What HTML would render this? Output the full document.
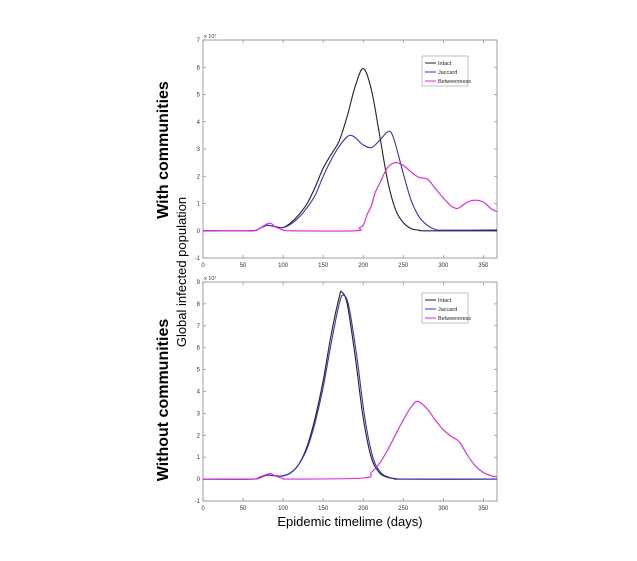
<!DOCTYPE html>
<html><head><meta charset="utf-8"><style>
body{margin:0;background:#fff;}
svg{display:block;font-family:"Liberation Sans",sans-serif;}
</style></head><body>
<svg id="c" width="637" height="561">
<text x="168" y="150" transform="rotate(-90 168 150)" text-anchor="middle" font-size="16" font-weight="bold">With communities</text>
<text x="168" y="400" transform="rotate(-90 168 400)" text-anchor="middle" font-size="16" font-weight="bold">Without communities</text>
<text x="186" y="272" transform="rotate(-90 186 272)" text-anchor="middle" font-size="13">Global infected population</text>
<text x="350" y="526" text-anchor="middle" font-size="13">Epidemic timelime (days)</text>
</svg>
<script>
const xTicks=[0,50,100,150,200,250,300,350];
const topYTicks=[-1,0,1,2,3,4,5,6,7];
const botYTicks=[-1,0,1,2,3,4,5,6,7,8,9];
const seriesNames=["Intact","Jaccard","Betweenness"];
const topIntactX=[0,60,70,80,90,100,110,120,130,140,150,160,170,180,190,200,210,220,230,240,250,260,270,280,367];
const topIntactY=[0,0,0.08,0.2,0.15,0.12,0.3,0.6,1.0,1.6,2.3,2.8,3.3,4.2,5.3,5.95,5.2,3.6,1.9,0.8,0.3,0.08,0.02,0,0];
const topJaccardX=[0,60,70,80,90,100,110,120,130,140,150,160,170,180,185,190,200,210,220,230,235,240,250,260,270,280,290,300,367];
const topJaccardY=[0,0,0.08,0.2,0.15,0.12,0.25,0.5,0.85,1.3,2.0,2.6,3.1,3.45,3.5,3.42,3.15,3.05,3.3,3.62,3.6,3.2,2.1,1.1,0.5,0.2,0.05,0.02,0.03];
const topBetwX=[0,60,70,80,85,90,100,110,190,195,200,205,210,215,220,230,240,250,260,270,280,290,300,310,316,320,330,340,350,360,367];
const topBetwY=[0,0,0.08,0.25,0.27,0.15,0.03,0,0,0.1,0.2,0.6,0.9,1.4,1.7,2.3,2.5,2.4,2.15,1.95,1.9,1.55,1.2,0.9,0.82,0.85,1.05,1.12,1.05,0.8,0.7];
const botIntactX=[0,60,70,80,90,100,110,120,130,140,150,160,170,173,180,190,200,210,220,230,240,250,367];
const botIntactY=[0,0,0.05,0.18,0.15,0.15,0.3,0.7,1.5,2.8,4.5,6.6,8.3,8.55,8.0,5.6,2.8,1.0,0.3,0.08,0.02,0,0];
const botJaccardX=[0,60,70,80,90,100,110,120,130,140,150,160,170,175,182,192,202,212,222,232,242,252,367];
const botJaccardY=[0,0,0.05,0.18,0.15,0.15,0.3,0.7,1.4,2.6,4.2,6.2,8.0,8.4,7.9,5.6,2.8,1.0,0.3,0.08,0.02,0,0];
const botBetwX=[0,60,70,80,85,90,100,110,200,210,220,230,240,250,260,268,280,290,300,310,320,330,340,350,360,367];
const botBetwY=[0,0,0.08,0.22,0.25,0.15,0.03,0,0.05,0.3,0.7,1.3,2.0,2.7,3.3,3.55,3.2,2.7,2.25,1.95,1.7,1.1,0.6,0.3,0.15,0.1];
const colors=["#222","#3a2fc0","#e020e0"];
const NS="http://www.w3.org/2000/svg";
const svg=document.getElementById('c');
function mk(t,a,p){const e=document.createElementNS(NS,t);for(const k in a)e.setAttribute(k,a[k]);(p||svg).appendChild(e);return e;}
function smooth(pts){let d="M"+pts[0][0]+","+pts[0][1];for(let i=0;i<pts.length-1;i++){const p0=pts[Math.max(0,i-1)],p1=pts[i],p2=pts[i+1],p3=pts[Math.min(pts.length-1,i+2)];const c1x=p1[0]+(p2[0]-p0[0])/6,c1y=p1[1]+(p2[1]-p0[1])/6,c2x=p2[0]-(p3[0]-p1[0])/6,c2y=p2[1]-(p3[1]-p1[1])/6;d+=" C"+c1x.toFixed(1)+","+c1y.toFixed(1)+" "+c2x.toFixed(1)+","+c2y.toFixed(1)+" "+p2[0].toFixed(1)+","+p2[1].toFixed(1);}return d;}
function panel(name,L,T,R,B,ymin,ymax,yTicks,data,legY){
  const g=mk('g',{});
  
  
  const sx=v=>L+(v-0)/(367-0)*(R-L), sy=v=>B-(v-ymin)/(ymax-ymin)*(B-T);
  const box=mk('rect',{x:L,y:T,width:R-L,height:B-T,fill:'#fff',stroke:'#888','stroke-width':0.8},g);
  
  
  xTicks.forEach(v=>{const x=sx(v);mk('line',{x1:x,y1:B,x2:x,y2:B-3,stroke:'#888','stroke-width':0.7},g);mk('line',{x1:x,y1:T,x2:x,y2:T+3,stroke:'#888','stroke-width':0.7},g);const t=mk('text',{x:x,y:B+9,'text-anchor':'middle','font-size':6,fill:'#333'},g);t.textContent=v;});
  yTicks.forEach(v=>{const y=sy(v);mk('line',{x1:L,y1:y,x2:L+3,y2:y,stroke:'#888','stroke-width':0.7},g);mk('line',{x1:R,y1:y,x2:R-3,y2:y,stroke:'#888','stroke-width':0.7},g);const t=mk('text',{x:L-3,y:y+2,'text-anchor':'end','font-size':6,fill:'#333'},g);t.textContent=v;});
  const ex=mk('text',{x:L+1,y:T-2,'font-size':5.5,fill:'#333'},g);ex.textContent='x 10⁷';
  
  
  data.forEach((s,i)=>{const pts=s[0].map((x,j)=>[sx(x),sy(s[1][j])]);const p=mk('path',{d:smooth(pts),fill:'none',stroke:colors[i],'stroke-width':1.1},g);
    
    });
  const lg=mk('g',{},g);
  
  
  mk('rect',{x:422,y:legY,width:46,height:30,fill:'#fff',stroke:'#999','stroke-width':0.6},lg);
  seriesNames.forEach((n,i)=>{const y=legY+7+i*9;mk('line',{x1:425,y1:y,x2:436,y2:y,stroke:colors[i],'stroke-width':1},lg);const t=mk('text',{x:438,y:y+2,'font-size':5.5,fill:'#222'},lg);t.textContent=n;});
}
panel('top-panel',203,40,497,258,-1,7,topYTicks,[[topIntactX,topIntactY],[topJaccardX,topJaccardY],[topBetwX,topBetwY]],56);
panel('bottom-panel',203,282,497,501,-1,9,botYTicks,[[botIntactX,botIntactY],[botJaccardX,botJaccardY],[botBetwX,botBetwY]],293);
</script>
</body></html>
